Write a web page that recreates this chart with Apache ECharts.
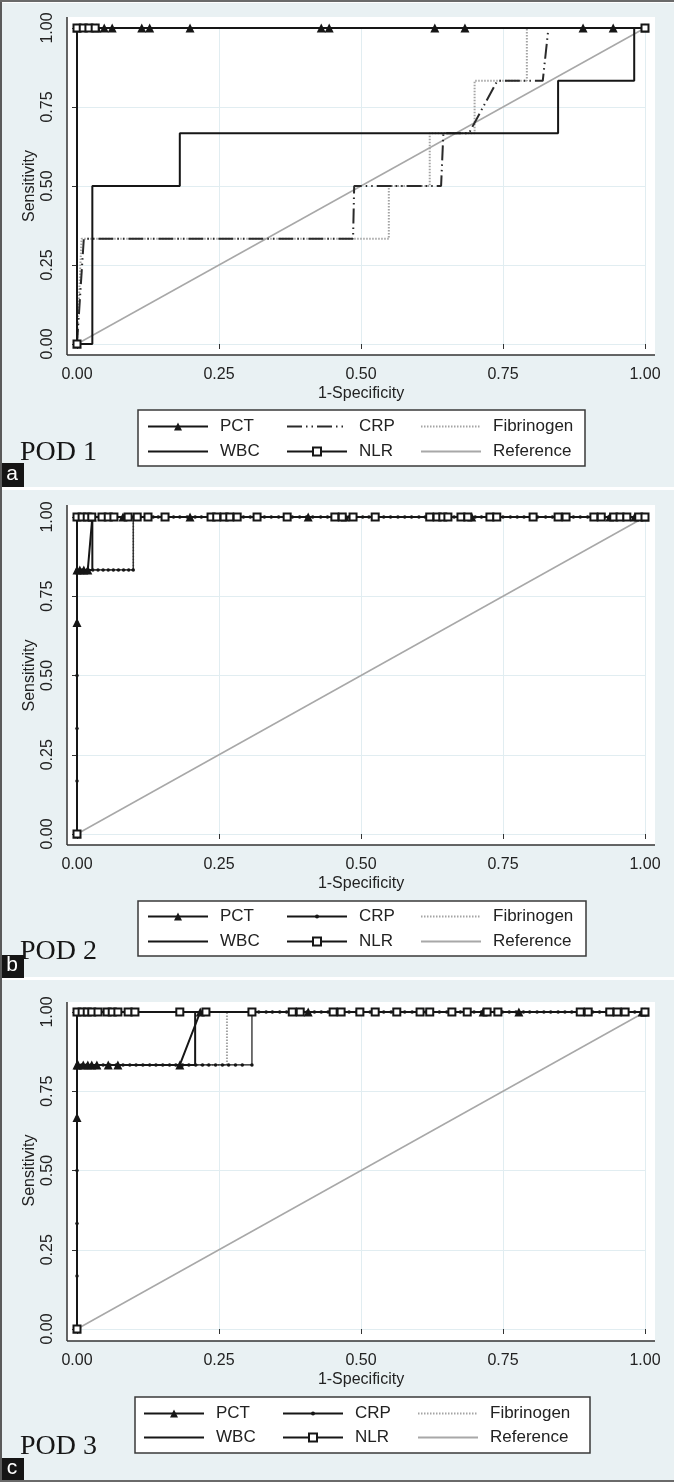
<!DOCTYPE html>
<html>
<head>
<meta charset="utf-8">
<title>ROC curves, POD 1-3</title>
<script src="https://cdn.jsdelivr.net/npm/echarts@6/dist/echarts.min.js"></script>
<style>
  html, body { margin: 0; padding: 0; background: #ffffff; }
  #chart { width: 674px; height: 1482px; }
</style>
</head>
<body>
<div id="chart"></div>
<script>
// ---- data (x = 1-specificity, y = sensitivity) ----
const ticks = [0, 0.25, 0.5, 0.75, 1];
const tickLabels = ["0.00", "0.25", "0.50", "0.75", "1.00"];
const panelTitles = ["POD 1", "POD 2", "POD 3"];
const panelTags = ["a", "b", "c"];
const legendRows = [["PCT", "CRP", "Fibrinogen"], ["WBC", "NLR", "Reference"]];
const reference = [[0, 0], [1, 1]];

// POD 1
const pod1Pct = [[0, 0], [0, 1], [0.035, 1], [0.048, 1], [0.062, 1], [0.114, 1], [0.128, 1], [0.199, 1],
  [0.430, 1], [0.444, 1], [0.630, 1], [0.683, 1], [0.891, 1], [0.944, 1], [1, 1]];
const pod1Wbc = [[0, 0], [0.027, 0], [0.027, 0.5], [0.181, 0.5], [0.181, 0.667], [0.847, 0.667],
  [0.847, 0.833], [0.981, 0.833], [0.981, 1], [1, 1]];
const pod1Crp = [[0, 0], [0.006, 0.167], [0.012, 0.333], [0.486, 0.333], [0.488, 0.5], [0.641, 0.5],
  [0.645, 0.667], [0.690, 0.667], [0.740, 0.833], [0.820, 0.833], [0.830, 1], [1, 1]];
const pod1Fib = [[0, 0], [0.004, 0.167], [0.008, 0.333], [0.549, 0.333], [0.549, 0.5], [0.621, 0.5],
  [0.621, 0.667], [0.700, 0.667], [0.700, 0.833], [0.792, 0.833], [0.792, 1], [1, 1]];
const pod1Nlr = [[0, 0], [0, 1], [0.011, 1], [0.021, 1], [0.032, 1], [1, 1]];

// POD 2
const pod2Pct = [[0, 0], [0, 0.667], [0, 0.833], [0.005, 0.833], [0.012, 0.833], [0.019, 0.833],
  [0.027, 1], [0.081, 1], [0.199, 1], [0.407, 1], [0.472, 1], [0.695, 1], [0.938, 1], [0.982, 1], [1, 1]];
const pod2Wbc = [[0, 0], [0, 0.833], [0.027, 0.833], [0.027, 1], [1, 1]];
const pod2Fib = [[0, 0], [0, 0.833], [0.099, 0.833], [0.099, 1], [1, 1]];
const pod2NlrTopX = [0, 0.009, 0.018, 0.026, 0.044, 0.055, 0.065, 0.090, 0.106, 0.125, 0.155, 0.236,
  0.246, 0.259, 0.269, 0.282, 0.317, 0.370, 0.454, 0.467, 0.486, 0.525, 0.621, 0.634, 0.644, 0.653,
  0.676, 0.688, 0.727, 0.739, 0.803, 0.847, 0.861, 0.910, 0.923, 0.945, 0.956, 0.968, 0.989, 1];
const pod2CrpLeftY = [0, 0.167, 0.333, 0.5, 0.667];
const pod2CrpMidX = [0, 0.009, 0.018, 0.028, 0.037, 0.046, 0.055, 0.064, 0.073, 0.082, 0.091, 0.099];
const pod2CrpTopX = [0.099, 0.111, 0.120, 0.134, 0.143, 0.158, 0.170, 0.181, 0.194, 0.208, 0.219, 0.231,
  0.243, 0.255, 0.268, 0.280, 0.293, 0.305, 0.316, 0.330, 0.342, 0.355, 0.367, 0.379, 0.392, 0.404,
  0.415, 0.429, 0.441, 0.453, 0.466, 0.478, 0.491, 0.503, 0.514, 0.528, 0.540, 0.552, 0.565, 0.577,
  0.589, 0.602, 0.613, 0.627, 0.639, 0.651, 0.664, 0.676, 0.688, 0.701, 0.712, 0.726, 0.738, 0.750,
  0.763, 0.775, 0.787, 0.800, 0.811, 0.825, 0.837, 0.849, 0.862, 0.874, 0.886, 0.899, 0.910, 0.924,
  0.936, 0.948, 0.961, 0.973, 0.985, 1];

// POD 3
const pod3Pct = [[0, 0], [0, 0.667], [0, 0.833], [0.002, 0.833], [0.011, 0.833], [0.019, 0.833],
  [0.026, 0.833], [0.035, 0.833], [0.055, 0.833], [0.072, 0.833], [0.181, 0.833], [0.217, 1],
  [0.407, 1], [0.715, 1], [0.778, 1], [0.995, 1], [1, 1]];
const pod3Wbc = [[0, 0], [0, 0.833], [0.208, 0.833], [0.208, 1], [1, 1]];
const pod3Fib = [[0, 0], [0, 0.833], [0.264, 0.833], [0.264, 1], [1, 1]];
const pod3NlrTopX = [0, 0.009, 0.018, 0.026, 0.037, 0.053, 0.062, 0.072, 0.090, 0.102, 0.181, 0.227,
  0.308, 0.379, 0.393, 0.451, 0.465, 0.498, 0.525, 0.563, 0.604, 0.621, 0.660, 0.687, 0.722, 0.741,
  0.886, 0.900, 0.938, 0.951, 0.965, 1];
const pod3CrpLeftY = [0, 0.167, 0.333, 0.5, 0.667];
const pod3CrpMidX = [0, 0.008, 0.017, 0.025, 0.034, 0.046, 0.058, 0.069, 0.081, 0.093, 0.104, 0.116,
  0.128, 0.139, 0.151, 0.163, 0.174, 0.186, 0.197, 0.209, 0.221, 0.232, 0.244, 0.256, 0.267, 0.279,
  0.291, 0.308];
const pod3CrpTopX = [0.308, 0.320, 0.333, 0.344, 0.357, 0.369, 0.381, 0.394, 0.405, 0.418, 0.430,
  0.442, 0.455, 0.467, 0.479, 0.492, 0.503, 0.516, 0.528, 0.540, 0.553, 0.565, 0.577, 0.590, 0.601,
  0.614, 0.626, 0.638, 0.651, 0.663, 0.675, 0.688, 0.699, 0.712, 0.724, 0.736, 0.749, 0.761, 0.773,
  0.786, 0.797, 0.810, 0.822, 0.834, 0.847, 0.859, 0.871, 0.884, 0.895, 0.908, 0.920, 0.932, 0.945,
  0.957, 0.969, 0.982, 1];

// ---- layout (pixels) ----
const FONT = '"Liberation Sans", Arial, Helvetica, sans-serif';
const INK = "#161616";
const BG = "#e9f1f3";
const panels = [
  { bgTop: 3, bgBottom: 487, plotTop: 17, gridTop: 28, gridH: 316, axisY: 355,
    box: [138, 410, 447, 56], rows: [427, 452], cols: [147, 286, 420], podY: 453, tagTop: 463, tagBottom: 487 },
  { bgTop: 490, bgBottom: 977, plotTop: 505, gridTop: 517, gridH: 317, axisY: 845,
    box: [138, 901, 448, 55], rows: [917, 942], cols: [147, 286, 420], podY: 952, tagTop: 955, tagBottom: 978 },
  { bgTop: 980, bgBottom: 1480, plotTop: 1002, gridTop: 1012, gridH: 317, axisY: 1341,
    box: [135, 1397, 455, 56], rows: [1414, 1438], cols: [143, 282, 417], podY: 1447, tagTop: 1458, tagBottom: 1480 }
];
const plotLeft = 67, plotRight = 655, gridLeft = 77, gridW = 568;

const onRow = (xs, y) => xs.map(x => [x, y]);
const pod2Crp = [...pod2CrpLeftY.map(y => [0, y]), ...onRow(pod2CrpMidX, 0.833), ...onRow(pod2CrpTopX, 1)];
const pod2Nlr = [[0, 0], ...onRow(pod2NlrTopX, 1)];
const pod3Crp = [...pod3CrpLeftY.map(y => [0, y]), ...onRow(pod3CrpMidX, 0.833), ...onRow(pod3CrpTopX, 1)];
const pod3Nlr = [[0, 0], ...onRow(pod3NlrTopX, 1)];

const curves = [
  { PCT: pod1Pct, CRP: pod1Crp, Fibrinogen: pod1Fib, WBC: pod1Wbc, NLR: pod1Nlr, Reference: reference },
  { PCT: pod2Pct, CRP: pod2Crp, Fibrinogen: pod2Fib, WBC: pod2Wbc, NLR: pod2Nlr, Reference: reference },
  { PCT: pod3Pct, CRP: pod3Crp, Fibrinogen: pod3Fib, WBC: pod3Wbc, NLR: pod3Nlr, Reference: reference }
];

// line / marker style per curve; CRP is dash-dot in POD 1 and a dotted bead line afterwards
function styleFor(name, i) {
  switch (name) {
    case "PCT": return { symbol: "triangle", symbolSize: 9, line: { color: INK, width: 2 }, z: 4 };
    case "WBC": return { symbol: "none", line: { color: INK, width: 2 }, z: 3 };
    case "NLR": return { symbol: "emptyRect", symbolSize: 7, line: { color: INK, width: 2 }, z: 5 };
    case "CRP": return i === 0
      ? { symbol: "none", line: { color: "#2a2a2a", width: 2, type: [15, 4, 1.5, 4, 1.5, 4] }, z: 3 }
      : { symbol: "circle", symbolSize: 3.5, line: { color: INK, width: 1.2 }, z: 3 };
    case "Fibrinogen": return { symbol: "none", line: { color: "#a4a4a4", width: 2, type: [1.5, 1.5] }, z: 2 };
    default: return { symbol: "none", line: { color: "#a8a8a8", width: 1.5 }, z: 1 };
  }
}

const grid = [], xAxis = [], yAxis = [], series = [], legend = [], graphic = [];
const fmt = v => tickLabels[ticks.indexOf(v)];

panels.forEach((p, i) => {
  grid.push({ left: gridLeft, top: p.gridTop, width: gridW, height: p.gridH, outerBoundsMode: "none", containLabel: false });
  const xOff = p.axisY - (p.gridTop + p.gridH);
  xAxis.push({
    gridIndex: i, type: "value", min: 0, max: 1, interval: 0.25, offset: xOff,
    axisLine: { show: false },
    axisTick: { show: true, length: 5, lineStyle: { color: "#333", width: 1 } },
    axisLabel: { fontSize: 16, color: "#222", fontFamily: FONT, margin: 12, formatter: fmt },
    splitLine: { show: true, lineStyle: { color: "#e1edf1", width: 1 } },
    name: "1-Specificity", nameLocation: "middle", nameGap: 31, nameMoveOverlap: false,
    nameTextStyle: { fontSize: 16, color: "#222", fontFamily: FONT }
  });
  yAxis.push({
    gridIndex: i, type: "value", min: 0, max: 1, interval: 0.25, offset: gridLeft - plotLeft,
    axisLine: { show: false },
    axisTick: { show: true, length: 5, lineStyle: { color: "#333", width: 1 } },
    axisLabel: { fontSize: 16, color: "#222", fontFamily: FONT, margin: 11, rotate: 90, formatter: fmt },
    splitLine: { show: true, lineStyle: { color: "#e1edf1", width: 1 } },
    name: "Sensitivity", nameLocation: "middle", nameGap: 29, nameMoveOverlap: false,
    nameTextStyle: { fontSize: 16, color: "#222", fontFamily: FONT }
  });

  legendRows.forEach((row, r) => row.forEach((name, c) => {
    const st = styleFor(name, i);
    const sName = name + "|" + i;
    series.push({
      name: sName, type: "line", xAxisIndex: i, yAxisIndex: i, data: curves[i][name],
      symbol: st.symbol, symbolSize: st.symbolSize || 4, showSymbol: st.symbol !== "none",
      lineStyle: st.line, itemStyle: { color: st.line.color, borderWidth: 1.3 },
      z: st.z, silent: true, animation: false, emphasis: { disabled: true }
    });
    const dotOnly = name === "CRP" && i > 0;
    legend.push({
      left: p.cols[c], top: p.rows[r] - 9, padding: 0, orient: "horizontal",
      itemWidth: 60, itemHeight: dotOnly ? 5 : 10, selectedMode: false,
      data: [{ name: sName, itemStyle: st.symbol === "none" ? { opacity: 0 } : {} }],
      formatter: n => n.split("|")[0],
      lineStyle: { width: 2 },
      textStyle: { fontSize: 17, color: "#222", fontFamily: FONT, padding: [0, 0, 0, 7] }
    });
  }));

  // panel background, plot area, axis lines, legend box, titles
  graphic.push(
    { type: "rect", z: -20, shape: { x: 0, y: p.bgTop, width: 674, height: p.bgBottom - p.bgTop }, style: { fill: BG } },
    { type: "rect", z: -15, shape: { x: plotLeft, y: p.plotTop, width: plotRight - plotLeft, height: p.axisY - p.plotTop }, style: { fill: "#ffffff" } },
    { type: "line", z: 1, shape: { x1: plotLeft, y1: p.axisY, x2: plotRight, y2: p.axisY }, style: { stroke: "#333", lineWidth: 1.5 } },
    { type: "line", z: 1, shape: { x1: plotLeft, y1: p.plotTop, x2: plotLeft, y2: p.axisY }, style: { stroke: "#333", lineWidth: 1.5 } },
    { type: "rect", z: -5, shape: { x: p.box[0], y: p.box[1], width: p.box[2], height: p.box[3] }, style: { fill: "#ffffff", stroke: "#3a3a3a", lineWidth: 1.5 } },
    { type: "text", z: 10, x: 20, y: p.podY, style: { text: panelTitles[i], font: '28px "Liberation Serif", "Times New Roman", serif', fill: INK, align: "left", verticalAlign: "middle" } },
    { type: "rect", z: 10, shape: { x: 0, y: p.tagTop, width: 24, height: p.tagBottom - p.tagTop }, style: { fill: "#151515" } },
    { type: "text", z: 11, x: 12, y: (p.tagTop + p.tagBottom) / 2 - 1, style: { text: panelTags[i], font: "21px " + FONT, fill: "#ffffff", align: "center", verticalAlign: "middle" } }
  );
});

// outer frame edges
graphic.push(
  { type: "rect", z: 12, shape: { x: 0, y: 0, width: 2, height: 1482 }, style: { fill: "#5a5a5a" } },
  { type: "rect", z: 12, shape: { x: 0, y: 0, width: 674, height: 2 }, style: { fill: "#6a6a6a" } },
  { type: "rect", z: 12, shape: { x: 0, y: 1480, width: 674, height: 2 }, style: { fill: "#6a6a6a" } }
);

const chart = echarts.init(document.getElementById("chart"), null, { renderer: "canvas", width: 674, height: 1482 });
chart.setOption({
  animation: false,
  backgroundColor: "#ffffff",
  textStyle: { fontFamily: FONT },
  grid, xAxis, yAxis, series, legend, graphic
});
</script>
</body>
</html>
